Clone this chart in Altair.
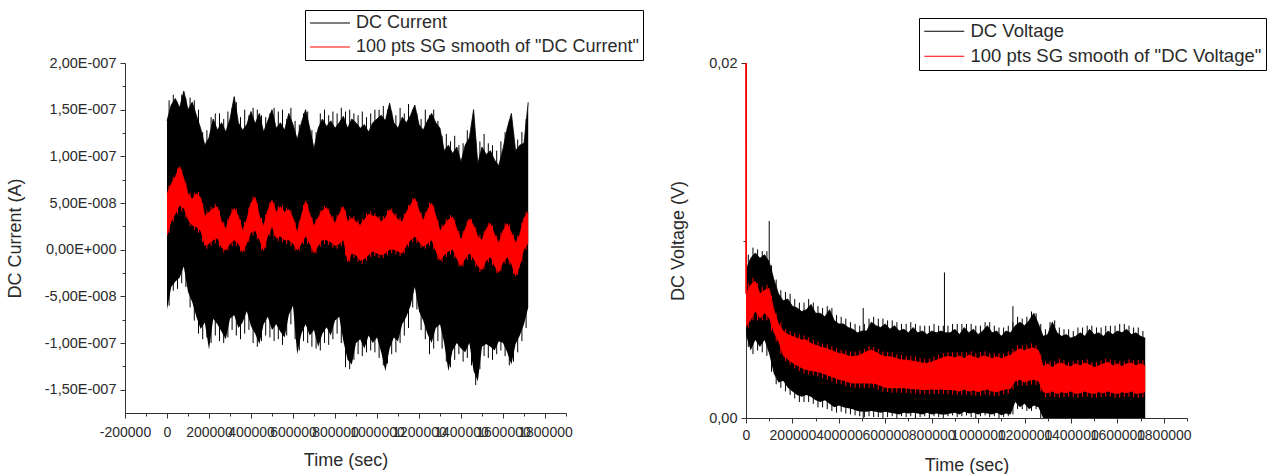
import altair as alt
import pandas as pd

FONT = "Liberation Sans"
TXT = "#2a2a2a"
AXC = "#333333"

# ---------------- LEFT PANEL: DC Current (values in nA, converted to A) ----------------
L_TIME = [
    0, 20000, 40000, 60000, 80000, 100000, 120000, 140000, 160000, 180000,
    200000, 220000, 240000, 260000, 280000, 300000, 320000, 340000, 360000, 380000,
    400000, 420000, 440000, 460000, 480000, 500000, 520000, 540000, 560000, 580000,
    600000, 620000, 640000, 660000, 680000, 700000, 720000, 740000, 760000, 780000,
    800000, 820000, 840000, 860000, 880000, 900000, 920000, 940000, 960000, 980000,
    1000000, 1020000, 1040000, 1060000, 1080000, 1100000, 1120000, 1140000, 1160000, 1180000,
    1200000, 1220000, 1240000, 1260000, 1280000, 1300000, 1320000, 1340000, 1360000, 1380000,
    1400000, 1420000, 1440000, 1460000, 1480000, 1500000, 1520000, 1540000, 1560000, 1580000,
    1600000, 1620000, 1640000, 1660000, 1680000, 1700000, 1720000]
L_BLACK_HI = [
    138, 155, 162, 152, 170, 150, 158, 144, 130, 112,
    120, 140, 128, 136, 126, 140, 164, 136, 128, 134,
    148, 135, 146, 126, 138, 150, 130, 136, 128, 146,
    134, 118, 136, 150, 130, 108, 130, 140, 132, 138,
    130, 136, 143, 130, 140, 136, 130, 134, 126, 136,
    140, 144, 138, 157, 136, 130, 142, 136, 144, 155,
    134, 128, 138, 146, 136, 130, 106, 112, 103, 110,
    94, 112, 120, 150, 92, 110, 102, 106, 96, 90,
    108, 130, 146, 106, 112, 114, 158]
L_BLACK_LO = [
    -64, -40, -34, -30, -18, -45, -56, -72, -85, -78,
    -107, -74, -80, -88, -96, -74, -70, -84, -78, -66,
    -82, -90, -101, -80, -72, -86, -80, -88, -94, -70,
    -60, -112, -90, -80, -92, -86, -104, -90, -83, -92,
    -76, -72, -98, -118, -123, -100, -96, -106, -92, -100,
    -94, -110, -130, -106, -94, -98, -80, -72, -60, -40,
    -66, -76, -90, -100, -84, -80, -100, -130, -108, -100,
    -106, -110, -100, -130, -141, -104, -101, -104, -108, -98,
    -100, -110, -123, -101, -92, -80, -62]
L_RED_HI = [
    60, 70, 78, 89, 76, 60, 54, 60, 56, 36,
    40, 44, 46, 30, 22, 36, 44, 36, 20, 32,
    50, 56, 36, 25, 42, 53, 40, 46, 40, 43,
    34, 18, 36, 52, 38, 25, 34, 42, 45, 36,
    28, 38, 46, 30, 34, 30, 26, 32, 38, 36,
    35, 30, 34, 43, 38, 32, 30, 40, 48, 55,
    42, 31, 42, 50, 36, 20, 26, 32, 35, 22,
    10, 22, 33, 26, 14, 10, 22, 28, 16, 7,
    20, 28, 18, 7, 16, 34, 40]
L_RED_LO = [
    14, 30, 38, 47, 44, 32, 26, 24, 20, 4,
    6, 10, 12, 2, -1, 6, 10, 6, -3, 6,
    18, 20, 10, -2, 14, 24, 12, 14, 10, 10,
    6, -1, 6, 14, 6, -4, 4, 10, 10, 8,
    4, 6, 10, -14, -4, -6, -12, -10, -6, -2,
    -4, -6, -4, 0, 0, -2, -4, 4, 10, 14,
    8, 3, 6, 10, -2, -12, -6, -2, 0, -10,
    -18, -10, -4, -10, -18, -22, -12, -8, -18, -25,
    -14, -8, -16, -29, -18, 0, 7]
# noise needles between the samples above (peak values)
L_NEEDLE_T = [t + 10000 for t in L_TIME[:-1]]
L_NEEDLE_HI = [
    160, 166, 158, 166, 162, 163, 160, 150, 126, 128,
    142, 146, 146, 140, 148, 152, 158, 142, 150, 144,
    152, 150, 144, 142, 146, 152, 148, 150, 140, 152,
    138, 134, 146, 148, 128, 126, 146, 150, 144, 148,
    146, 152, 148, 150, 146, 144, 148, 142, 146, 150,
    150, 154, 150, 148, 144, 152, 146, 156, 150, 146,
    140, 150, 144, 150, 138, 122, 124, 116, 122, 112,
    114, 128, 130, 118, 116, 124, 114, 112, 106, 116,
    126, 138, 120, 118, 126, 140]
L_NEEDLE_LO = [
    -60, -44, -42, -36, -40, -62, -76, -90, -96, -94,
    -100, -92, -98, -100, -94, -86, -92, -96, -90, -86,
    -100, -104, -98, -92, -94, -98, -96, -102, -92, -80,
    -96, -108, -98, -100, -104, -106, -108, -100, -102, -96,
    -90, -100, -126, -128, -118, -112, -114, -110, -108, -110,
    -116, -124, -122, -112, -110, -100, -92, -84, -62, -64,
    -86, -96, -112, -106, -98, -106, -120, -126, -118, -112,
    -120, -116, -124, -145, -128, -114, -116, -118, -112, -108,
    -114, -124, -120, -110, -98, -84]
L_RED_NEEDLE_HI = [
    69, 78, 87, 86, 72, 61, 61, 62, 50, 42,
    46, 49, 42, 30, 33, 44, 44, 32, 30, 45,
    57, 50, 34, 38, 51, 50, 47, 47, 45, 42,
    30, 31, 48, 49, 35, 33, 42, 47, 44, 36,
    37, 46, 42, 36, 36, 32, 33, 39, 41, 39,
    36, 36, 42, 44, 39, 35, 39, 48, 55, 52,
    40, 40, 50, 47, 32, 27, 33, 37, 32, 20,
    20, 31, 33, 24, 16, 20, 29, 26, 15, 18,
    28, 27, 16, 15, 29, 41]
L_RED_NEEDLE_LO = [
    18, 30, 38, 41, 34, 25, 21, 18, 8, 1,
    4, 7, 3, -3, -1, 4, 4, -2, -2, 8,
    15, 11, 0, 2, 15, 14, 9, 8, 6, 4,
    -1, -1, 6, 6, -3, -4, 3, 6, 5, 2,
    1, 4, -6, -13, -9, -13, -15, -12, -8, -7,
    -9, -9, -6, -4, -5, -7, -4, 3, 8, 7,
    2, 1, 4, 0, -11, -13, -8, -5, -9, -18,
    -18, -11, -11, -18, -24, -21, -14, -17, -25, -23,
    -15, -16, -26, -27, -13, 0]
L_NAMES = ["DC Current", '100 pts SG smooth of "DC Current"']
L_X_TICKS = [-200000, 0, 200000, 400000, 600000, 800000, 1000000, 1200000, 1400000, 1600000, 1800000]
L_X_LABELS = ["-200000", "0", "200000", "400000", "600000", "800000", "1000000", "1200000",
              "1400000", "1600000", "1800000"]
L_X_MINOR = [-100000, 100000, 300000, 500000, 700000, 900000, 1100000, 1300000, 1500000, 1700000, 1900000]
L_Y_TICKS = [-1.5e-07, -1.0e-07, -5.0e-08, 0.0, 5.0e-08, 1.0e-07, 1.5e-07, 2.0e-07]
L_Y_LABELS = ["-1,50E-007", "-1,00E-007", "-5,00E-008", "0,00E+000", "5,00E-008",
              "1,00E-007", "1,50E-007", "2,00E-007"]
L_Y_MINOR = [-1.25e-07, -7.5e-08, -2.5e-08, 2.5e-08, 7.5e-08, 1.25e-07, 1.75e-07]

# ---------------- RIGHT PANEL: DC Voltage (values in mV, converted to V) ----------------
R_TIME = [0, 2000] + L_TIME[1:]
R_BLACK_HI = [
    8.3, 8.4, 9.0, 9.3, 9.0, 9.2, 8.8, 7.8, 7.0, 6.6, 6.7,
    6.3, 6.2, 6.0, 6.1, 6.4, 5.9, 5.9, 5.7, 6.1, 5.5,
    5.3, 5.3, 5.1, 5.0, 4.8, 4.9, 4.9, 5.4, 5.2, 5.1,
    5.3, 5.0, 5.2, 4.9, 5.0, 4.8, 5.1, 4.8, 4.9, 4.7,
    4.9, 4.8, 4.9, 4.8, 4.8, 5.0, 4.7, 5.1, 4.8, 5.0,
    4.7, 4.9, 5.2, 4.8, 4.9, 4.6, 4.9, 4.8, 5.2, 5.4,
    5.2, 5.5, 5.9, 5.3, 4.6, 4.7, 5.4, 4.8, 4.6, 4.7,
    4.5, 4.6, 4.8, 4.6, 5.0, 4.7, 4.8, 4.6, 4.9, 4.7,
    4.9, 4.8, 5.0, 4.7, 4.8, 4.6, 4.5]
R_BLACK_LO = [
    5.0, 4.6, 3.8, 4.4, 4.0, 4.4, 3.6, 2.5, 2.0, 2.1, 1.7,
    1.5, 1.3, 1.2, 1.3, 1.2, 1.0, 0.9, 1.0, 0.8, 0.6,
    0.7, 0.6, 0.55, 0.5, 0.4, 0.35, 0.35, 0.4, 0.35, 0.3,
    0.35, 0.3, 0.25, 0.2, 0.3, 0.25, 0.3, 0.25, 0.2, 0.3,
    0.2, 0.25, 0.2, 0.2, 0.25, 0.3, 0.2, 0.35, 0.25, 0.3,
    0.2, 0.3, 0.25, 0.2, 0.3, 0.15, 0.25, 0.2, 0.9, 0.6,
    0.8, 0.5, 0.7, 0.6, 0.0, 0.0, 0.0, 0.0, 0.0, 0.0,
    0.0, 0.0, 0.0, 0.0, 0.0, 0.0, 0.0, 0.0, 0.0, 0.0,
    0.0, 0.0, 0.0, 0.0, 0.0, 0.0, 0.0]
R_RED_HI = [
    20.0, 7.0, 7.5, 7.7, 7.0, 7.2, 7.3, 6.1, 5.3, 4.9, 4.7,
    4.6, 4.5, 4.4, 4.4, 4.2, 4.1, 4.0, 3.95, 3.85, 3.75,
    3.65, 3.6, 3.5, 3.46, 3.5, 3.6, 3.75, 3.83, 3.7, 3.55,
    3.46, 3.45, 3.4, 3.3, 3.27, 3.25, 3.2, 3.15, 3.1, 3.08,
    3.15, 3.25, 3.35, 3.45, 3.46, 3.4, 3.5, 3.35, 3.55, 3.45,
    3.35, 3.5, 3.45, 3.35, 3.45, 3.35, 3.45, 3.55, 3.75, 3.9,
    3.8, 3.9, 3.95, 3.8, 2.9, 3.05, 2.85, 3.05, 3.1, 2.95,
    2.9, 3.05, 2.95, 3.1, 3.0, 2.85, 2.95, 3.05, 3.15, 2.95,
    3.05, 2.9, 3.05, 3.1, 2.95, 3.05, 2.95]
R_RED_LO = [
    5.0, 5.2, 5.5, 6.0, 5.6, 5.9, 5.6, 4.8, 4.3, 3.5, 3.3,
    3.1, 2.95, 2.8, 2.7, 2.65, 2.6, 2.55, 2.45, 2.35, 2.25,
    2.15, 2.1, 2.0, 1.95, 1.95, 1.95, 1.95, 1.95, 1.9, 1.8,
    1.7, 1.67, 1.67, 1.67, 1.67, 1.65, 1.62, 1.6, 1.58, 1.58,
    1.6, 1.58, 1.6, 1.58, 1.58, 1.55, 1.5, 1.6, 1.5, 1.55,
    1.45, 1.55, 1.6, 1.5, 1.45, 1.55, 1.6, 1.65, 2.05, 2.15,
    2.0, 2.1, 2.15, 2.05, 1.45, 1.4, 1.5, 1.35, 1.45, 1.4,
    1.5, 1.35, 1.4, 1.5, 1.4, 1.35, 1.45, 1.4, 1.5, 1.4,
    1.35, 1.45, 1.4, 1.5, 1.35, 1.4, 1.45]
R_NEEDLE_T = L_NEEDLE_T
R_NEEDLE_HI = [
    9.2, 9.6, 9.5, 9.4, 9.4, 8.6, 7.8, 7.2, 7.1, 7.0,
    6.7, 6.5, 6.5, 6.7, 6.5, 6.3, 6.2, 6.3, 6.2, 5.8,
    5.7, 5.6, 5.4, 5.3, 5.2, 5.3, 5.6, 5.7, 5.6, 5.6,
    5.5, 5.5, 5.4, 5.3, 5.3, 5.4, 5.3, 5.2, 5.2, 5.2,
    5.3, 5.2, 5.2, 5.2, 5.3, 5.3, 5.3, 5.3, 5.3, 5.2,
    5.2, 5.4, 5.4, 5.2, 5.1, 5.1, 5.2, 5.4, 5.7, 5.6,
    5.7, 6.0, 5.9, 5.3, 5.0, 5.4, 5.5, 5.1, 5.0, 5.0,
    4.9, 5.1, 5.1, 5.2, 5.2, 5.1, 5.1, 5.2, 5.2, 5.2,
    5.3, 5.3, 5.2, 5.1, 5.1, 4.9]
R_NEEDLE_LO = [
    4.0, 3.6, 3.8, 3.7, 3.5, 2.6, 1.9, 1.7, 1.5, 1.3,
    1.1, 0.9, 0.9, 0.9, 0.8, 0.6, 0.6, 0.5, 0.4, 0.3,
    0.35, 0.25, 0.2, 0.15, 0.1, 0.05, 0.1, 0.05, 0.05, 0.0,
    0.05, 0.1, 0.0, 0.1, 0.05, 0.1, 0.0, 0.05, 0.1, 0.0,
    0.1, 0.05, 0.0, 0.1, 0.15, 0.05, 0.1, 0.15, 0.05, 0.0,
    0.1, 0.15, 0.05, 0.1, 0.0, 0.05, 0.1, 0.2, 0.5, 0.5,
    0.4, 0.4, 0.5, 0.0, 0.0, 0.0, 0.0, 0.0, 0.0, 0.0,
    0.0, 0.0, 0.0, 0.0, 0.0, 0.0, 0.0, 0.0, 0.0, 0.0,
    0.0, 0.0, 0.0, 0.0, 0.0, 0.0]
R_RED_NEEDLE_HI = [
    7.6, 7.9, 7.6, 7.4, 7.5, 6.9, 5.9, 5.4, 5.0, 4.9,
    4.8, 4.7, 4.65, 4.55, 4.4, 4.3, 4.2, 4.15, 4.05, 3.95,
    3.85, 3.8, 3.75, 3.75, 3.8, 3.9, 4.05, 4.0, 3.9, 3.75,
    3.7, 3.7, 3.6, 3.55, 3.5, 3.5, 3.45, 3.4, 3.35, 3.35,
    3.45, 3.55, 3.65, 3.7, 3.7, 3.7, 3.7, 3.7, 3.75, 3.65,
    3.7, 3.75, 3.65, 3.65, 3.65, 3.65, 3.75, 3.9, 4.1, 4.1,
    4.1, 4.2, 4.1, 3.6, 3.2, 3.2, 3.2, 3.35, 3.25, 3.15,
    3.2, 3.25, 3.25, 3.3, 3.15, 3.15, 3.25, 3.35, 3.3, 3.25,
    3.2, 3.2, 3.3, 3.25, 3.25, 3.25]
R_RED_NEEDLE_LO = [
    5.1, 5.5, 5.5, 5.5, 5.5, 4.9, 4.3, 3.6, 3.2, 3.0,
    2.8, 2.65, 2.5, 2.45, 2.4, 2.35, 2.25, 2.15, 2.05, 1.95,
    1.9, 1.8, 1.75, 1.7, 1.7, 1.7, 1.7, 1.7, 1.6, 1.5,
    1.45, 1.42, 1.42, 1.42, 1.4, 1.38, 1.36, 1.34, 1.33, 1.34,
    1.34, 1.34, 1.34, 1.33, 1.32, 1.28, 1.3, 1.3, 1.28, 1.25,
    1.25, 1.33, 1.3, 1.23, 1.25, 1.33, 1.38, 1.6, 1.85, 1.83,
    1.8, 1.88, 1.85, 1.5, 1.18, 1.2, 1.18, 1.15, 1.18, 1.2,
    1.18, 1.13, 1.2, 1.2, 1.13, 1.15, 1.18, 1.2, 1.2, 1.13,
    1.15, 1.18, 1.2, 1.18, 1.13, 1.18]
R_SPIKE_T = [100000, 505000, 505000, 855000, 1150000]
R_SPIKE_LO = [8.8, 4.9, 0.0, 4.8, 4.8]
R_SPIKE_HI = [11.1, 6.2, 0.35, 8.2, 6.3]
R_RED_SPIKE_T = [0]
R_RED_SPIKE_LO = [7.0]
R_RED_SPIKE_HI = [20.0]
R_NAMES = ["DC Voltage", '100 pts SG smooth of "DC Voltage"']
R_X_TICKS = [0, 200000, 400000, 600000, 800000, 1000000, 1200000, 1400000, 1600000, 1800000]
R_X_LABELS = ["0", "200000", "400000", "600000", "800000", "1000000", "1200000",
              "1400000", "1600000", "1800000"]
R_X_MINOR = [100000, 300000, 500000, 700000, 900000, 1100000, 1300000, 1500000, 1700000, 1900000]
R_Y_TICKS = [0.0, 0.02]
R_Y_LABELS = ["0,00", "0,02"]
R_Y_MINOR = [0.01]


def label_expr(values, labels, tol):
    expr = "''"
    for v, lab in reversed(list(zip(values, labels))):
        expr = f"(abs(datum.value - ({v!r})) < {tol!r}) ? '{lab}' : {expr}"
    return expr


AXIS_STYLE = dict(domainColor=AXC, tickColor=AXC, domainWidth=1, tickWidth=1, grid=False,
                  labelFont=FONT, labelColor=TXT, titleFont=FONT, titleColor=TXT,
                  titleFontWeight="normal", titleFontSize=18)


def band_df(time, lo, hi, unit):
    return pd.DataFrame({"t": time, "lo": [v * unit for v in lo], "hi": [v * unit for v in hi]})


def panel(time, bhi, blo, rhi, rlo, ntime, nhi, nlo, rnhi, rnlo, unit, names, xdom, ydom, w, h,
          xt, xl, xm, yt, yl, ym, ytitle, ytol, ytitle_pad, xlab_pad, xtitle_pad,
          leg_x, leg_y, leg_fs, extra=None):
    black = band_df(time, blo, bhi, unit)
    red = band_df(time, rlo, rhi, unit)
    bneed = band_df(ntime, nlo, nhi, unit)
    rneed = band_df(ntime, rnlo, rnhi, unit)
    lines = pd.concat([black.assign(series=names[0]), red.assign(series=names[1])], ignore_index=True)
    xs = alt.Scale(domain=xdom, nice=False, zero=False)
    ys = alt.Scale(domain=ydom, nice=False, zero=False)

    x_major = alt.Axis(values=xt, labelExpr=label_expr(xt, xl, 1), tickSize=5, labelFontSize=14,
                       labelPadding=xlab_pad, titlePadding=xtitle_pad, labelFlush=False,
                       labelOverlap=False, labelBound=False, orient="bottom", **AXIS_STYLE)
    x_minor = alt.Axis(values=xm, labels=False, domain=False, tickSize=3, tickColor=AXC,
                       grid=False, title=None, orient="bottom")
    y_major = alt.Axis(values=yt, labelExpr=label_expr(yt, yl, ytol), tickSize=5, labelFontSize=14.5,
                       labelPadding=4, titlePadding=ytitle_pad, labelOverlap=False,
                       labelBound=False, orient="left", **AXIS_STYLE)
    y_minor = alt.Axis(values=ym, labels=False, domain=False, tickSize=3, tickColor=AXC,
                       grid=False, title=None, orient="left")

    def xn():
        return alt.X("t:Q", scale=xs, axis=None)

    def yn():
        return alt.Y("lo:Q", scale=ys, axis=None)

    a_black = alt.Chart(black).mark_area(color="#000000").encode(
        x=alt.X("t:Q", scale=xs, axis=x_major, title="Time (sec)"),
        y=alt.Y("lo:Q", scale=ys, axis=y_major, title=ytitle),
        y2="hi:Q")
    n_black = alt.Chart(bneed).mark_rule(color="#000000", strokeWidth=1).encode(
        x=xn(), y=yn(), y2="hi:Q")
    a_red = alt.Chart(red).mark_area(color="#ff0000").encode(
        x=alt.X("t:Q", scale=xs, axis=x_minor),
        y=alt.Y("lo:Q", scale=ys, axis=y_minor),
        y2="hi:Q")
    n_red = alt.Chart(rneed).mark_rule(color="#ff0000", strokeWidth=1).encode(
        x=xn(), y=yn(), y2="hi:Q")
    leg = alt.Legend(title=None, orient="none", legendX=leg_x, legendY=leg_y, direction="vertical",
                     symbolType="M-2,0H8", symbolSize=64, symbolStrokeWidth=1,
                     labelFont=FONT, labelFontSize=leg_fs, labelColor=TXT, labelLimit=600,
                     labelOffset=29, padding=4, rowPadding=6, strokeColor="#000000",
                     fillColor="#ffffff", cornerRadius=0)
    ln = alt.Chart(lines).mark_line(strokeWidth=0.8).encode(
        x=xn(),
        y=alt.Y("hi:Q", scale=ys, axis=None),
        stroke=alt.Stroke("series:N", scale=alt.Scale(domain=names, range=["#000000", "#ff0000"]),
                          legend=leg))
    layers = [a_black, n_black, a_red, n_red, ln]
    if extra:
        layers += [e(xs, ys) for e in extra]
    return alt.layer(*layers).resolve_axis(x="independent", y="independent").properties(
        width=w, height=h)


def r_spikes(xs, ys):
    df = band_df(R_SPIKE_T, R_SPIKE_LO, R_SPIKE_HI, 1e-3)
    return alt.Chart(df).mark_rule(color="#000000", strokeWidth=1).encode(
        x=alt.X("t:Q", scale=xs, axis=None), y=alt.Y("lo:Q", scale=ys, axis=None), y2="hi:Q")


def r_red_spike(xs, ys):
    df = band_df(R_RED_SPIKE_T, R_RED_SPIKE_LO, R_RED_SPIKE_HI, 1e-3)
    return alt.Chart(df).mark_rule(color="#ff0000", strokeWidth=1.5).encode(
        x=alt.X("t:Q", scale=xs, axis=None), y=alt.Y("lo:Q", scale=ys, axis=None), y2="hi:Q")


def r_top_pad(xs, ys):
    df = pd.DataFrame({"d": [0]})
    return alt.Chart(df).mark_rule(strokeOpacity=0).encode(
        x=alt.value(0), y=alt.value(-55), y2=alt.value(-50))


left = panel(L_TIME, L_BLACK_HI, L_BLACK_LO, L_RED_HI, L_RED_LO,
             L_NEEDLE_T, L_NEEDLE_HI, L_NEEDLE_LO, L_RED_NEEDLE_HI, L_RED_NEEDLE_LO,
             1e-9, L_NAMES, [-200000, 1900000], [-1.75e-07, 2.0e-07], 441, 350,
             L_X_TICKS, L_X_LABELS, L_X_MINOR, L_Y_TICKS, L_Y_LABELS, L_Y_MINOR,
             "DC Current (A)", 1e-12, 20, 7, 12, 180, -53, 18)
right = panel(R_TIME, R_BLACK_HI, R_BLACK_LO, R_RED_HI, R_RED_LO,
              R_NEEDLE_T, R_NEEDLE_HI, R_NEEDLE_LO, R_RED_NEEDLE_HI, R_RED_NEEDLE_LO,
              1e-3, R_NAMES, [0, 1900000], [0.0, 0.02], 441, 355,
              R_X_TICKS, R_X_LABELS, R_X_MINOR, R_Y_TICKS, R_Y_LABELS, R_Y_MINOR,
              "DC Voltage (V)", 1e-9, 21, 5, 14, 173, -45, 18.5,
              extra=[r_spikes, r_red_spike, r_top_pad])

chart = alt.hconcat(left, right, spacing=25).resolve_scale(stroke="independent").resolve_legend(
    stroke="independent"
).properties(
    padding={"left": 6, "top": 8, "right": 0, "bottom": 0}
).configure(font=FONT).configure_view(stroke=None)

chart.save("out.html", embed_options={"renderer": "svg", "actions": False})
